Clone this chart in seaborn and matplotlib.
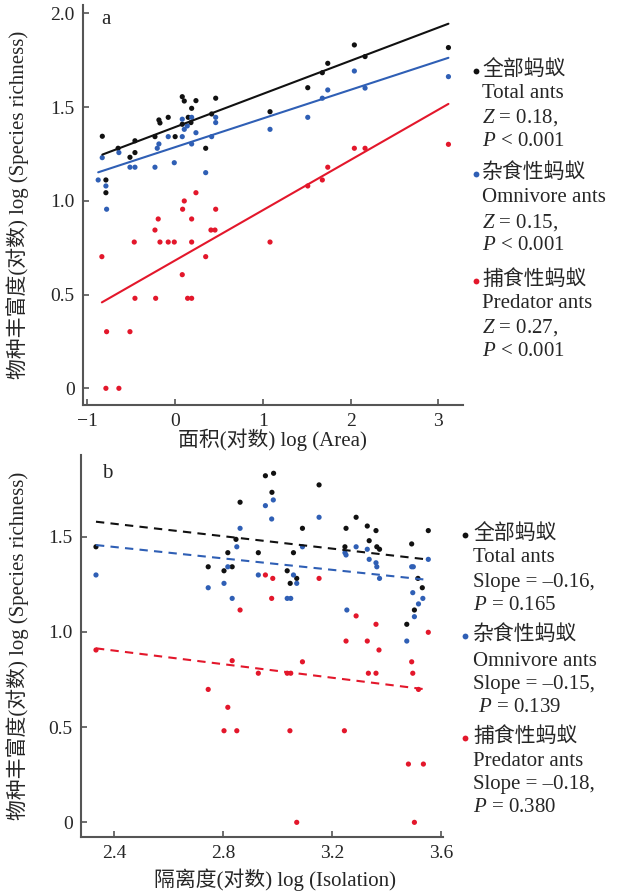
import numpy as np
import pandas as pd
import matplotlib
matplotlib.use('Agg')
import matplotlib.pyplot as plt
from matplotlib.lines import Line2D
import seaborn as sns

# ---- panel a: log(area) vs log(species richness) ----
a_total_x = [-0.83, -0.65, -0.515, -0.458, -0.458, -0.23, -0.185, -0.173, -0.079, 0.0,
             0.081, 0.104, 0.237, 0.188, 0.149, 0.18, 0.081, 0.348, 0.416, 0.462,
             -0.789, -0.789, 1.081, 1.511, 1.677, 1.739, 2.042, 2.164, 3.114]
a_total_y = [1.344, 1.28, 1.232, 1.32, 1.257, 1.342, 1.431, 1.415, 1.445, 1.342,
             1.555, 1.532, 1.534, 1.493, 1.445, 1.417, 1.408, 1.28, 1.463, 1.547,
             1.111, 1.043, 1.475, 1.603, 1.683, 1.733, 1.831, 1.769, 1.817]

a_omni_x = [-0.831, -0.877, -0.789, -0.781, -0.641, -0.515, -0.458, -0.23, -0.185, -0.204,
            -0.079, -0.01, 0.081, 0.081, 0.104, 0.138, 0.188, 0.188, 0.237, 0.348,
            0.416, 0.462, 0.462, 1.081, 1.511, 1.677, 1.739, 2.042, 2.164, 3.114]
a_omni_y = [1.23, 1.111, 1.079, 0.955, 1.257, 1.179, 1.179, 1.179, 1.303, 1.28,
            1.342, 1.203, 1.435, 1.342, 1.381, 1.399, 1.445, 1.303, 1.363, 1.15,
            1.342, 1.445, 1.417, 1.381, 1.445, 1.547, 1.591, 1.692, 1.601, 1.662]

a_pred_x = [0.085, 0.104, 0.237, 0.462, -0.193, 0.188, -0.23, 0.408, 0.454, -0.466,
            -0.173, -0.079, -0.01, 0.188, -0.835, 0.348, 0.081, -0.458, -0.222, 0.142,
            0.188, -0.781, -0.515, -0.789, -0.641, 1.081, 1.511, 1.677, 1.739, 2.042,
            2.164, 3.114]
a_pred_y = [0.955, 0.999, 1.043, 0.955, 0.903, 0.903, 0.844, 0.844, 0.844, 0.78,
            0.78, 0.78, 0.78, 0.78, 0.702, 0.702, 0.606, 0.48, 0.48, 0.48,
            0.48, 0.302, 0.302, 0.0, 0.0, 0.78, 1.079, 1.111, 1.179, 1.28,
            1.28, 1.301]

# fitted lines
a_intercept = [1.393, 1.286, 0.682]
a_slope = [0.177, 0.153, 0.268]

# ---- panel b: log(isolation) vs log(species richness) ----
b_total_x = [2.333, 2.745, 2.803, 2.817, 2.833, 2.862, 2.847, 2.929, 2.955, 2.985,
             2.979, 3.035, 3.058, 3.046, 3.07, 3.091, 3.152, 3.251, 3.288, 3.247,
             3.329, 3.361, 3.336, 3.364, 3.374, 3.492, 3.553, 3.515, 3.531, 3.502, 3.474]
b_total_y = [1.447, 1.342, 1.321, 1.416, 1.342, 1.681, 1.486, 1.416, 1.82, 1.833,
             1.733, 1.321, 1.416, 1.255, 1.281, 1.544, 1.772, 1.544, 1.602, 1.447,
             1.556, 1.532, 1.479, 1.447, 1.434, 1.462, 1.532, 1.281, 1.232, 1.115, 1.04]

b_omni_x = [2.333, 2.745, 2.803, 2.817, 2.833, 2.85, 2.862, 2.929, 2.955, 2.978,
            2.984, 3.035, 3.048, 3.058, 3.07, 3.091, 3.152, 3.247, 3.251, 3.288,
            3.254, 3.329, 3.336, 3.361, 3.364, 3.374, 3.492, 3.498, 3.553, 3.496,
            3.533, 3.517, 3.502, 3.474]
b_omni_y = [1.299, 1.232, 1.255, 1.342, 1.176, 1.447, 1.544, 1.299, 1.663, 1.593,
            1.693, 1.176, 1.176, 1.299, 1.255, 1.447, 1.602, 1.416, 1.404, 1.447,
            1.115, 1.434, 1.381, 1.363, 1.342, 1.281, 1.342, 1.342, 1.381, 1.206,
            1.176, 1.147, 1.08, 0.952]

b_pred_x = [2.333, 2.955, 2.982, 2.978, 2.862, 2.833, 2.929, 3.035, 3.048, 2.745,
            2.817, 2.803, 2.85, 3.045, 3.07, 3.091, 3.245, 3.333, 3.361, 3.372,
            3.492, 3.496, 3.517, 3.48, 3.535, 3.502, 3.152, 3.288, 3.361, 3.251,
            3.329, 3.553]
b_pred_y = [0.905, 1.299, 1.281, 1.176, 1.115, 0.849, 0.783, 0.783, 0.783, 0.698,
            0.604, 0.481, 0.481, 0.481, 0.0, 0.843, 0.481, 0.783, 0.783, 0.905,
            0.843, 0.783, 0.698, 0.306, 0.306, 0.0, 1.281, 1.084, 1.04, 0.952,
            0.952, 0.998]

b_intercept = [1.959, 1.806, 1.329]
b_slope = [-0.163, -0.15, -0.178]

groups = ['total', 'omni', 'pred']
colors = ['#111111', '#2f5fb5', '#e3172b']

legend_a = [['全部蚂蚁', 'Total ants', '$Z$ = 0.18,', '$P$ < 0.001'],
            ['杂食性蚂蚁', 'Omnivore ants', '$Z$ = 0.15,', '$P$ < 0.001'],
            ['捕食性蚂蚁', 'Predator ants', '$Z$ = 0.27,', '$P$ < 0.001']]
legend_b = [['全部蚂蚁', 'Total ants', 'Slope = –0.16,', '$P$ = 0.165'],
            ['杂食性蚂蚁', 'Omnivore ants', 'Slope = –0.15,', ' $P$ = 0.139'],
            ['捕食性蚂蚁', 'Predator ants', 'Slope = –0.18,', '$P$ = 0.380']]

sns.set_style('ticks')
plt.rcParams['font.family'] = ['Liberation Serif', 'Noto Sans CJK SC']
plt.rcParams['mathtext.fontset'] = 'custom'
plt.rcParams['mathtext.rm'] = 'Liberation Serif'
plt.rcParams['mathtext.it'] = 'Liberation Serif:italic'

W, H = 618, 893
fig = plt.figure(figsize=(W / 100, H / 100), dpi=100)


def px(x, y):
    return x / W, 1 - y / H


def make_df(xs, ys):
    parts = []
    for g, x, y in zip(groups, xs, ys):
        parts.append(pd.DataFrame({'x': x, 'y': y, 'group': g}))
    return pd.concat(parts, ignore_index=True)


def fit_df(xs, intercepts, slopes):
    parts = []
    for g, x, a, b in zip(groups, xs, intercepts, slopes):
        xx = np.array([min(x), max(x)])
        parts.append(pd.DataFrame({'x': xx, 'y': a + b * xx, 'group': g}))
    return pd.concat(parts, ignore_index=True)


def draw_panel(ax, xs, ys, intercepts, slopes, dashed):
    pts = make_df(xs, ys)
    fits = fit_df(xs, intercepts, slopes)
    pal = dict(zip(groups, colors))
    for g in groups:
        sub = fits[fits['group'] == g]
        sns.lineplot(data=sub, x='x', y='y', color=pal[g], ax=ax, lw=1.5,
                     linestyle=(0, (4, 3)) if dashed else '-', legend=False)
    sns.scatterplot(data=pts, x='x', y='y', hue='group', palette=pal, s=14,
                    edgecolor='none', ax=ax, legend=False)
    sns.despine(ax=ax)
    for s in ['left', 'bottom']:
        ax.spines[s].set_color('#555555')
        ax.spines[s].set_linewidth(1.5)
    ax.tick_params(direction='in', length=4, width=1.2, color='#555555',
                   labelsize=14, pad=6)
    ax.set_xlabel('')
    ax.set_ylabel('')


# panel a
ax1 = fig.add_axes([83 / W, 1 - 405 / H, 380 / W, 400 / H])
draw_panel(ax1, [a_total_x, a_omni_x, a_pred_x], [a_total_y, a_omni_y, a_pred_y],
           a_intercept, a_slope, dashed=False)
ax1.set_xlim(-1.05, 3.28)
ax1.set_ylim(-0.089, 2.044)
ax1.set_xticks([-1, 0, 1, 2, 3])
ax1.set_yticks([0, 0.5, 1.0, 1.5, 2.0])
ax1.set_yticklabels(['0', '0.5', '1.0', '1.5', '2.0'])

# panel b
ax2 = fig.add_axes([81 / W, 1 - 837 / H, 362 / W, 382 / H])
draw_panel(ax2, [b_total_x, b_omni_x, b_pred_x], [b_total_y, b_omni_y, b_pred_y],
           b_intercept, b_slope, dashed=True)
ax2.set_xlim(2.278, 3.607)
ax2.set_ylim(-0.077, 1.929)
ax2.set_xticks([2.4, 2.8, 3.2, 3.6])
ax2.set_xticklabels(['2.4', '2.8', '3.2', '3.6'])
ax2.set_yticks([0, 0.5, 1.0, 1.5])
ax2.set_yticklabels(['0', '0.5', '1.0', '1.5'])

# panel letters
fig.text(*px(106, 20), 'a', fontsize=15, ha='center', va='center')
fig.text(*px(107, 473), 'b', fontsize=15, ha='center', va='center')

# axis titles
ylab = '物种丰富度(对数) log (Species richness)'
fig.text(*px(18, 205), ylab, rotation=90, fontsize=15, ha='center', va='center')
fig.text(*px(18, 646), ylab, rotation=90, fontsize=15, ha='center', va='center')
fig.text(*px(272, 440), '面积(对数) log (Area)', fontsize=15, ha='center', va='center')
fig.text(*px(275, 880), '隔离度(对数) log (Isolation)', fontsize=15, ha='center', va='center')

# legend blocks
rows_a = [[70, 94, 118, 142], [173, 198, 223, 245], [280, 304, 328, 352]]
rows_b = [[534, 558, 582, 606], [635, 661, 684, 708], [737, 761, 785, 808]]


def legend(block, rows, bx, tx):
    for lines, ys, c in zip(block, rows, colors):
        bxf, byf = px(bx, ys[0] + 1)
        fig.add_artist(Line2D([bxf], [byf], marker='o', markersize=4.2,
                              color=c, markeredgewidth=0, transform=fig.transFigure))
        for txt, y in zip(lines, ys):
            fig.text(*px(tx, y), txt, fontsize=15, ha='left', va='center')


legend(legend_a, rows_a, 476, 482)
legend(legend_b, rows_b, 465, 473)

fig.savefig('out.png', dpi=100)
